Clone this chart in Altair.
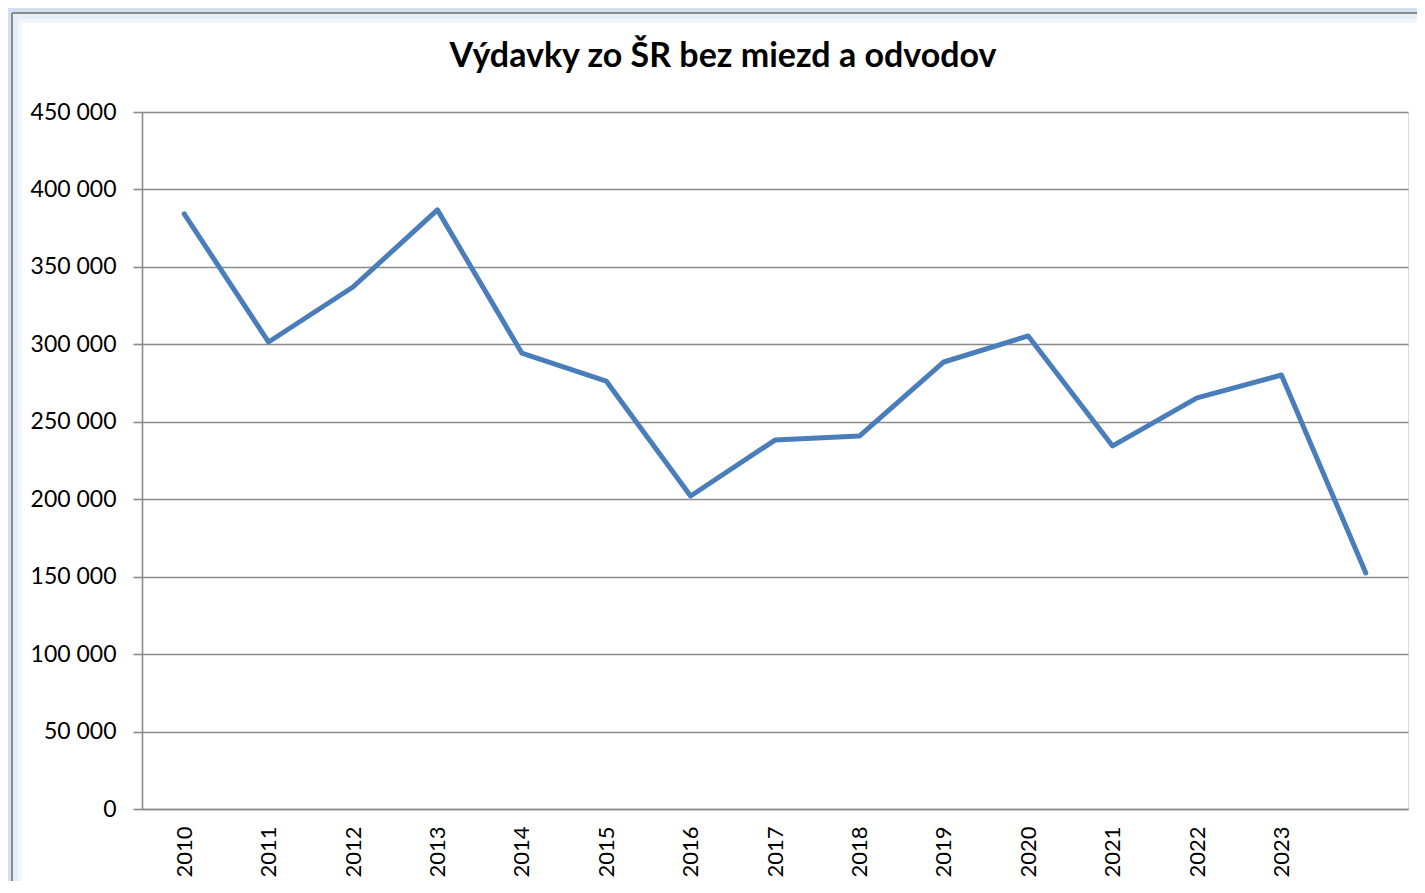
import altair as alt
import pandas as pd

title_text = "Výdavky zo ŠR bez miezd a odvodov"
years = ["2010", "2011", "2012", "2013", "2014", "2015", "2016", "2017",
         "2018", "2019", "2020", "2021", "2022", "2023", "2024"]
values = [384200, 301500, 337000, 386800, 294400, 276300, 202100, 238200,
          240800, 288600, 305400, 234400, 265400, 280200, 152400]
hidden_label = "2024"  # last category has no label in the original
y_ticks = [0, 50000, 100000, 150000, 200000, 250000, 300000, 350000, 400000, 450000]

df = pd.DataFrame({"year": years, "value": values})
one = pd.DataFrame({"d": [0]})

FONT = "Lato"
GRID = "#8a8a8a"

W, H = 1266, 697
PL, PT, PR, PB = 134, 104, 9, 72

x_enc = alt.X(
    "year:O",
    sort=years,
    scale=alt.Scale(type="point", padding=0.5),
    axis=alt.Axis(
        title=None, labelAngle=-90, ticks=False, grid=False,
        labelExpr=f"datum.value == '{hidden_label}' ? '' : datum.label",
        labelFont=FONT, labelFontSize=22, labelColor="#000000", labelPadding=17,
        domainColor=GRID, domainWidth=1.6,
    ),
)
y_enc = alt.Y(
    "value:Q",
    scale=alt.Scale(domain=[0, 450000], nice=False),
    axis=alt.Axis(
        title=None, values=y_ticks,
        labelExpr="replace(format(datum.value, ','), ',', ' ')",
        labelFont=FONT, labelFontSize=23, labelColor="#000000", labelPadding=17,
        tickSize=9, tickColor=GRID, tickWidth=1.6,
        gridColor=GRID, gridWidth=1.6,
        domainColor=GRID, domainWidth=1.6,
    ),
)

line = alt.Chart(df).mark_line(
    color="#4a7ebb", strokeWidth=5, strokeCap="round", strokeJoin="round"
).encode(x=x_enc, y=y_enc)

def band(x, x2, y, y2, color):
    return alt.Chart(one).mark_rect(fill=color, stroke=None).encode(
        x=alt.value(x), x2=alt.value(x2), y=alt.value(y), y2=alt.value(y2)
    )

def rule(x, x2, y, y2, color, w):
    return alt.Chart(one).mark_rule(color=color, strokeWidth=w).encode(
        x=alt.value(x), x2=alt.value(x2), y=alt.value(y), y2=alt.value(y2)
    )

decor = [
    band(-134, -130, -104, 800, "#d3e0f1"),
    band(-134, 1300, -104, -99, "#d3e0f1"),
    band(-129, -124, -98, 800, "#e6eef8"),
    band(-129, 1300, -98, -93, "#e6eef8"),
    band(-124, -120, -93, 800, "#f2f6fb"),
    band(-124, 1300, -93, -89, "#f2f6fb"),
    rule(-130, -130, -99, 800, "#8c8c8c", 2),
    rule(-130, 1300, -99, -99, "#8c8c8c", 2),
]

title = alt.Chart(one).mark_text(
    text=title_text, font=FONT, fontSize=34, fontWeight="bold", color="#000000",
    align="center", baseline="alphabetic",
).encode(x=alt.value(581), y=alt.value(-45))

chart = alt.layer(*decor, line, title).properties(
    width=W, height=H,
    autosize=alt.AutoSizeParams(type="none"),
    padding={"left": PL, "top": PT, "right": PR, "bottom": PB},
).configure_view(stroke=None).configure(background="#ffffff")

chart.save("out.html", embed_options={"renderer": "svg", "actions": False})
